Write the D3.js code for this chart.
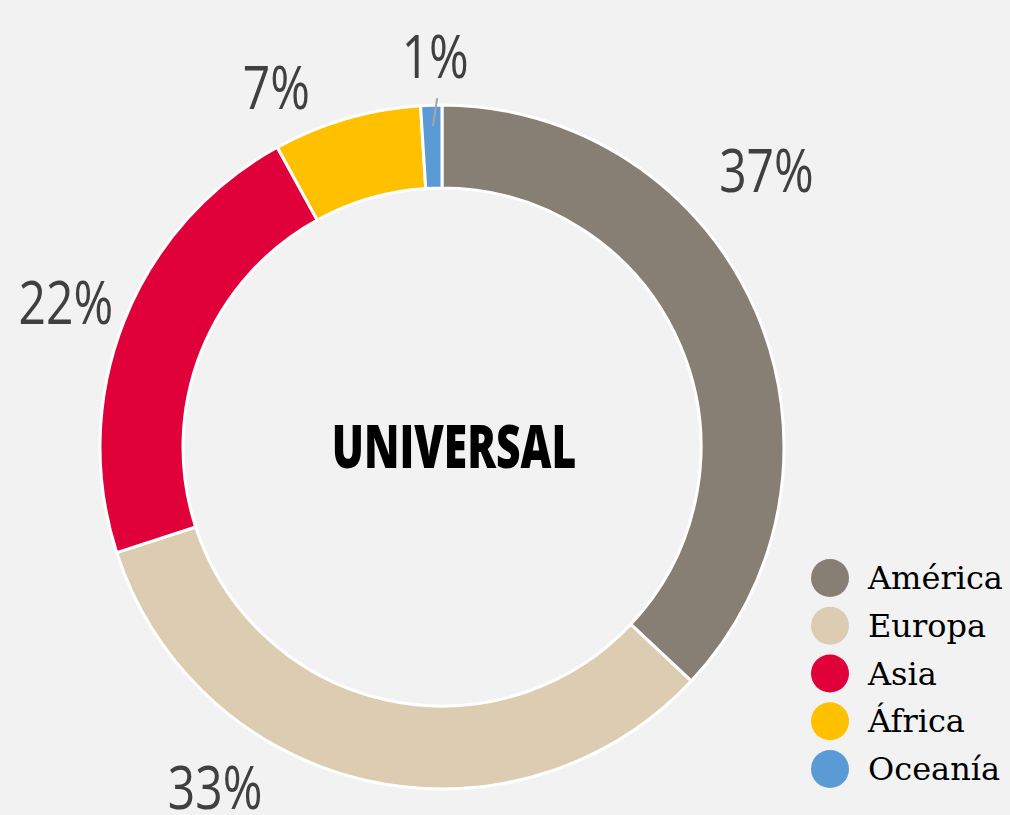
<!DOCTYPE html>
<html><head><meta charset="utf-8">
<script src="https://cdn.jsdelivr.net/npm/d3@7"></script>
<style>html,body{margin:0;padding:0;background:#f2f2f2;}svg{display:block;}</style>
</head><body>
<script>
const categories = ["América", "Europa", "Asia", "África", "Oceanía"];
const values = [37, 33, 22, 7, 1];
const labels = ["37%", "33%", "22%", "7%", "1%"];
const colors = ["#877e74", "#dccdb2", "#e0003a", "#ffc000", "#5b9bd5"];
const title = "UNIVERSAL";

const W = 1010, H = 815;
const cx = 442, cy = 447, R = 342, r0 = 259;
// label placement (angle offset in degrees from slice middle, radius)
const labelLayout = [{da: -17, rr: 426}, {da: 21, rr: 410}, {da: -0.6, rr: 403}, {da: -8.6, rr: 395}, {da: 0.8, rr: 390}];

const svg = d3.select("body").append("svg").attr("width", W).attr("height", H);
svg.append("rect").attr("width", W).attr("height", H).attr("fill", "#f2f2f2");

const pie = d3.pie().sort(null).value(d => d)(values);
const arc = d3.arc().innerRadius(r0).outerRadius(R);
const g = svg.append("g").attr("transform", `translate(${cx},${cy})`);
g.selectAll("path.slice").data(pie).join("path")
  .attr("class", "slice")
  .attr("d", arc)
  .attr("fill", (d, i) => colors[i])
  .attr("stroke", "#ffffff").attr("stroke-width", 3).attr("stroke-linejoin", "round");

const pt = (ang, rad) => [Math.sin(ang) * rad, -Math.cos(ang) * rad];
pie.forEach((d, i) => {
  const mid = (d.startAngle + d.endAngle) / 2;
  const L = labelLayout[i];
  const [x, y] = pt(mid + L.da * Math.PI / 180, L.rr);
  g.append("text")
    .attr("transform", `translate(${x},${y + 21}) scale(0.8,1)`)
    .attr("text-anchor", "middle")
    .attr("font-family", "'Open Sans', sans-serif")
    .attr("font-size", 60)
    .attr("fill", "#404040")
    .text(labels[i]);
  if (i === 4) {
    const [x1, y1] = pt(mid, R - 21);
    g.append("line").attr("x1", x1 + 1).attr("y1", y1).attr("x2", x + 2).attr("y2", y + 41)
      .attr("stroke", "#a6a6a6").attr("stroke-width", 2);
  }
});

g.append("text")
  .attr("transform", `translate(12,21) scale(0.71,1)`)
  .attr("text-anchor", "middle")
  .attr("font-family", "'Open Sans', sans-serif")
  .attr("font-weight", 800)
  .attr("font-size", 60)
  .attr("fill", "#000")
  .text(title);

const leg = svg.append("g").attr("transform", "translate(830,578)");
const ly = d3.scalePoint().domain(categories).range([0, 191]);
const li = leg.selectAll("g").data(categories).join("g").attr("transform", d => `translate(0,${ly(d)})`);
li.append("circle").attr("r", 19).attr("fill", (d, i) => colors[i]);
li.append("text").attr("x", 38).attr("y", 11)
  .attr("font-family", "'DejaVu Serif', serif").attr("font-size", 32).attr("fill", "#000")
  .text(d => d);
</script>
</body></html>
